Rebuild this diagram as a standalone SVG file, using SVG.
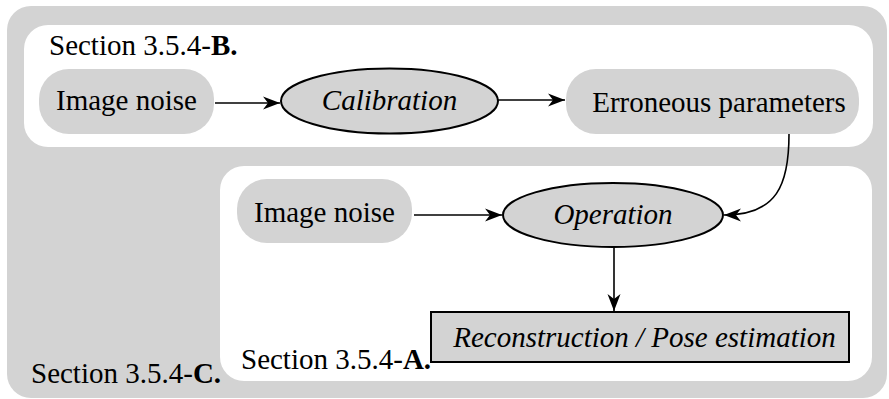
<svg xmlns="http://www.w3.org/2000/svg" width="889" height="399" viewBox="0 0 889 399">
<defs>
<marker id="arr" markerUnits="userSpaceOnUse" markerWidth="20" markerHeight="16" viewBox="-18 -8 20 16" refX="0" refY="0" orient="auto">
<path d="M0,0 L-17,-6.5 L-12,0 L-17,6.5 Z" fill="#000"/>
</marker>
</defs>
<rect fill="#fff" x="0" y="0" width="889" height="399"/>
<g id="section-C">
<rect fill="#d3d3d3" x="7" y="6" width="880" height="392" rx="24"/>
<text font-family="Times New Roman, Liberation Serif, serif" font-size="29" x="31" y="383">Section 3.5.4-<tspan font-weight="bold">C.</tspan></text>
</g>
<g id="section-B">
<rect fill="#fff" x="24" y="25" width="849" height="122" rx="24"/>
<text font-family="Times New Roman, Liberation Serif, serif" font-size="29" x="49" y="55">Section 3.5.4-<tspan font-weight="bold">B.</tspan></text>
</g>
<g id="section-A">
<rect fill="#fff" x="220" y="166" width="652" height="215" rx="24"/>
<text font-family="Times New Roman, Liberation Serif, serif" font-size="29" x="241" y="369">Section 3.5.4-<tspan font-weight="bold">A.</tspan></text>
</g>
<g id="image-noise-1">
<rect fill="#d3d3d3" x="39" y="69" width="175" height="65" rx="30"/>
<text font-family="Times New Roman, Liberation Serif, serif" font-size="29" x="126.5" y="110" text-anchor="middle">Image noise</text>
</g>
<g id="calibration">
<ellipse fill="#d3d3d3" stroke="#000" stroke-width="2" cx="389.5" cy="101" rx="108.5" ry="32.5"/>
<text font-family="Times New Roman, Liberation Serif, serif" font-size="29" font-style="italic" x="389.5" y="110" text-anchor="middle">Calibration</text>
</g>
<g id="erroneous-parameters">
<rect fill="#d3d3d3" x="566" y="69" width="293" height="65" rx="30"/>
<text font-family="Times New Roman, Liberation Serif, serif" font-size="29" x="719" y="112" text-anchor="middle">Erroneous parameters</text>
</g>
<g id="image-noise-2">
<rect fill="#d3d3d3" x="237" y="179" width="175" height="64" rx="30"/>
<text font-family="Times New Roman, Liberation Serif, serif" font-size="29" x="324.5" y="222" text-anchor="middle">Image noise</text>
</g>
<g id="operation">
<ellipse fill="#d3d3d3" stroke="#000" stroke-width="2" cx="613" cy="215" rx="110" ry="32"/>
<text font-family="Times New Roman, Liberation Serif, serif" font-size="29" font-style="italic" x="613" y="224" text-anchor="middle">Operation</text>
</g>
<g id="reconstruction">
<rect x="431" y="312" width="418" height="50" fill="#d3d3d3" stroke="#000" stroke-width="2"/>
<text font-family="Times New Roman, Liberation Serif, serif" font-size="29" font-style="italic" x="644.5" y="347" text-anchor="middle">Reconstruction / Pose estimation</text>
</g>
<g id="connectors" fill="none" stroke="#000" stroke-width="1.6">
<path d="M215,103 L280,103" marker-end="url(#arr)"/>
<path d="M498,100 L565,100" marker-end="url(#arr)"/>
<path d="M789,134 C789,185 777,215 724,215" marker-end="url(#arr)"/>
<path d="M414,215 L502,215" marker-end="url(#arr)"/>
<path d="M614,247 L614,311" marker-end="url(#arr)"/>
</g>
</svg>
